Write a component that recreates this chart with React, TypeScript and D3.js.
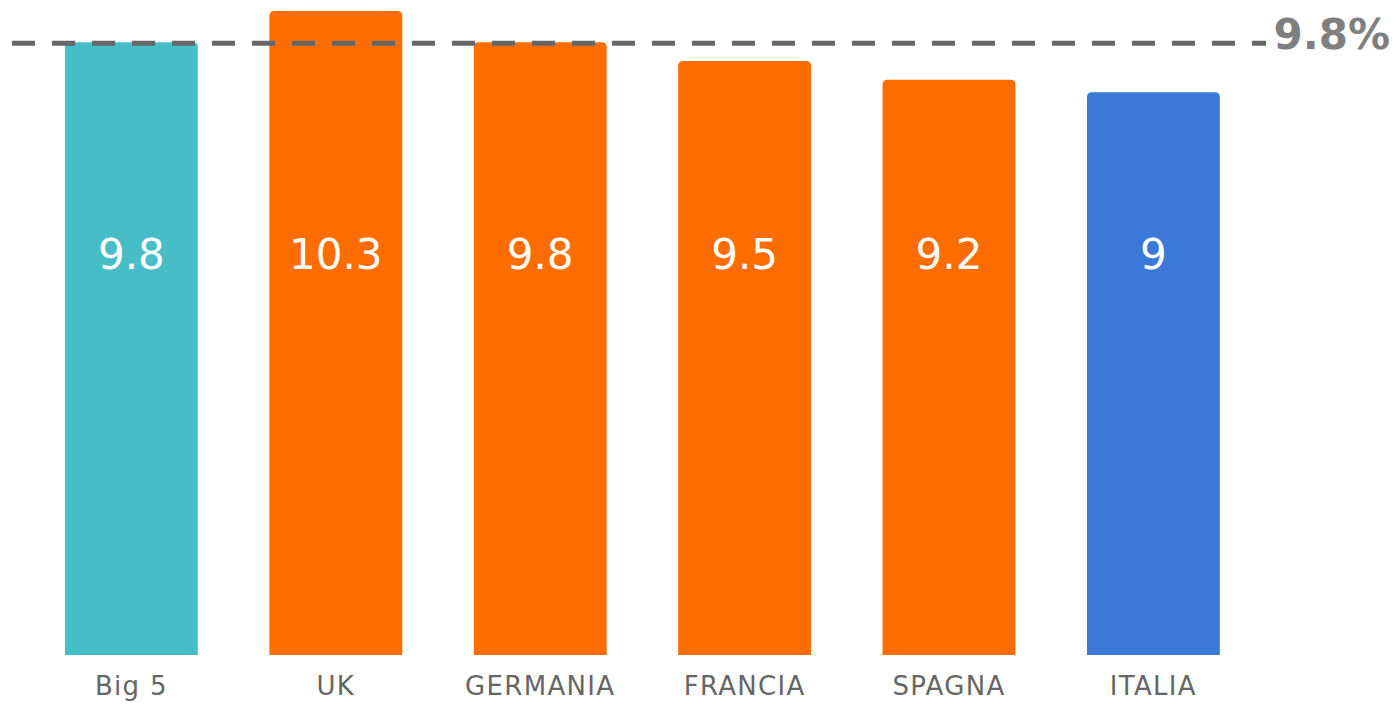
import React from "react";
import * as d3 from "d3";

const categories = ["Big 5", "UK", "GERMANIA", "FRANCIA", "SPAGNA", "ITALIA"];
const values = [9.8, 10.3, 9.8, 9.5, 9.2, 9];
const valueLabels = ["9.8", "10.3", "9.8", "9.5", "9.2", "9"];
const barColors = ["#47BDC7", "#FF6D00", "#FF6D00", "#FF6D00", "#FF6D00", "#3C78D8"];
const referenceValue = 9.8;
const referenceLabel = "9.8%";

const W = 1394;
const H = 704;

function topRoundedRect(x: number, y: number, w: number, h: number, r: number) {
  return `M${x},${y + h}V${y + r}Q${x},${y} ${x + r},${y}H${x + w - r}Q${x + w},${y} ${x + w},${y + r}V${y + h}Z`;
}

export default function App() {
  const x = d3.scaleBand<string>().domain(categories).range([29.2, 1255.6]).paddingInner(0.35).paddingOuter(0.175);
  const y = d3.scaleLinear().domain([0, 10.3]).range([655, 11]);
  const refY = y(referenceValue) + 1;
  return (
    <svg width={W} height={H} style={{ position: "absolute", left: 0, top: 0, display: "block" }}>
      <rect width={W} height={H} fill="#fff" />
      {categories.map((c, i) => {
        const bx = x(c)!;
        const bw = x.bandwidth();
        const top = y(values[i]);
        return (
          <g key={c}>
            <path d={topRoundedRect(bx, top, bw, y(0) - top, 5)} fill={barColors[i]} />
            <text x={bx + bw / 2} y={254} textAnchor="middle" dominantBaseline="central" fill="#fff" fontFamily="DejaVu Sans" fontSize={42}>
              {valueLabels[i]}
            </text>
            <text x={bx + bw / 2} y={695} textAnchor="middle" fill="#666" fontFamily="DejaVu Sans" fontSize={26} letterSpacing={1.3}>
              {c}
            </text>
          </g>
        );
      })}
      <line x1={12} x2={1266} y1={refY} y2={refY} stroke="#666" strokeWidth={5} strokeDasharray="23 17" />
      <text x={1390} y={49} textAnchor="end" fill="#7f7f7f" fontFamily="DejaVu Sans" fontWeight="bold" fontSize={42}>
        {referenceLabel}
      </text>
    </svg>
  );
}
